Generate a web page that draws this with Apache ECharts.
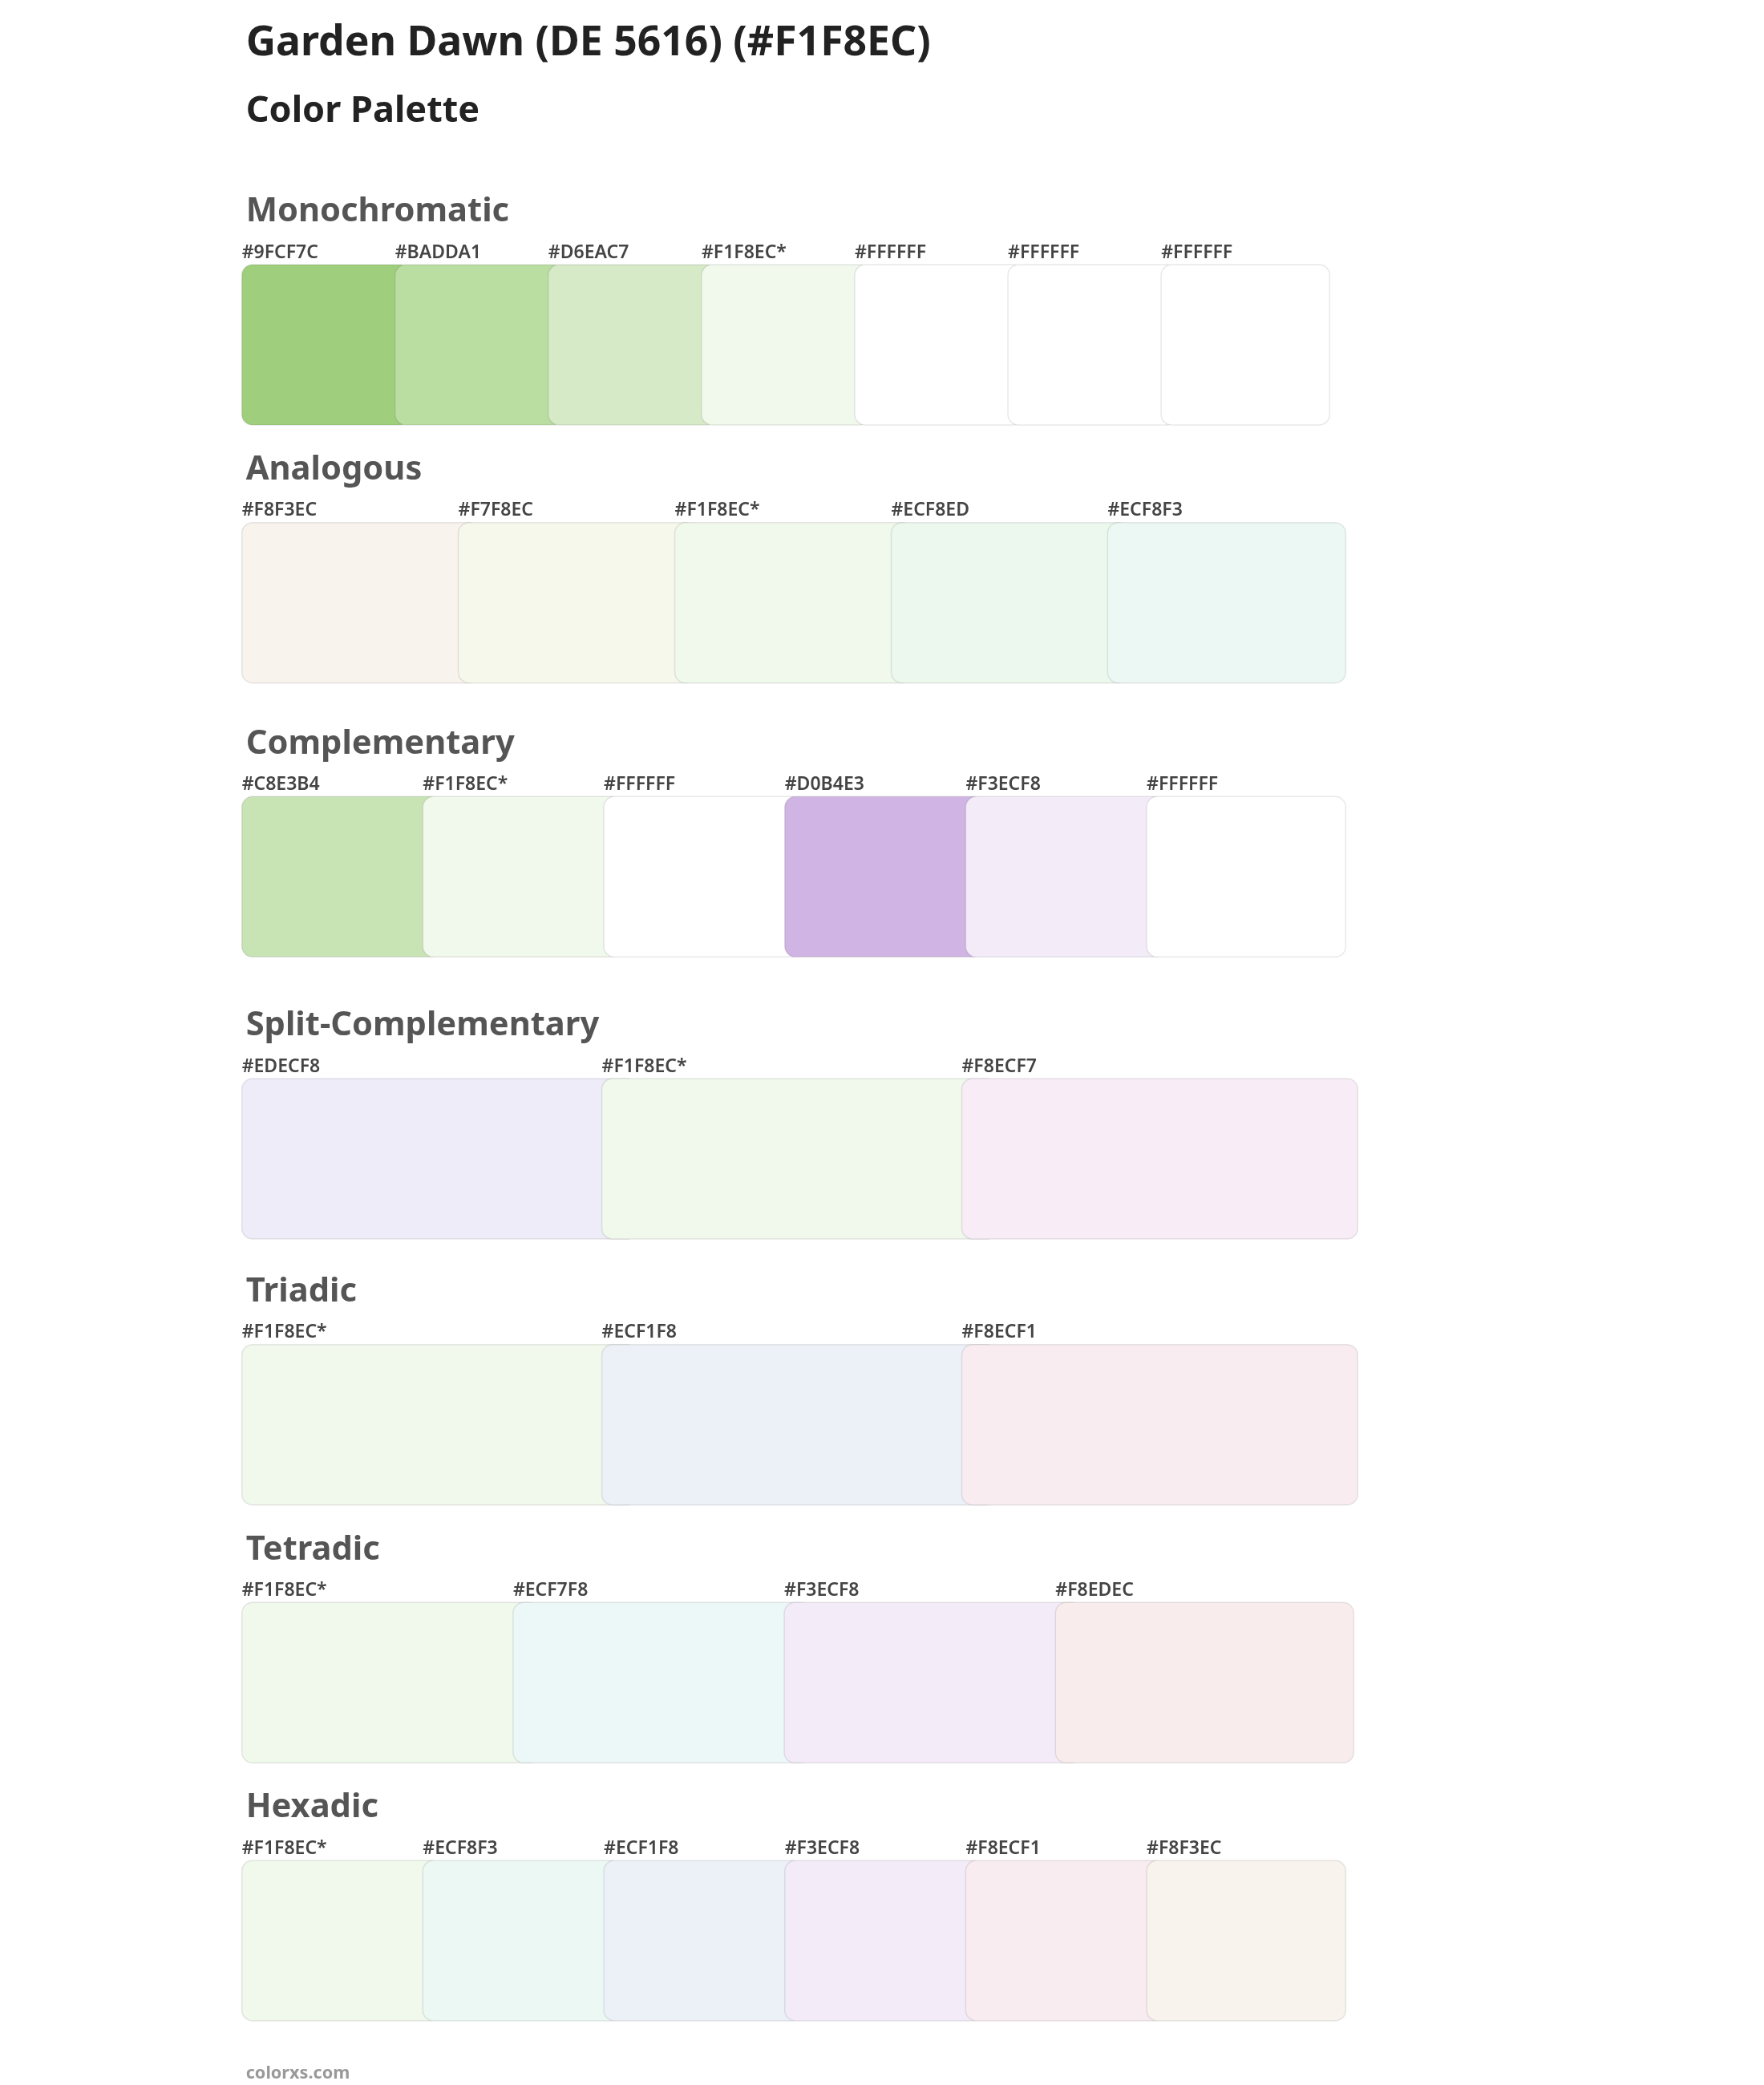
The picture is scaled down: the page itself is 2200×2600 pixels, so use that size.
<!DOCTYPE html>
<html>
<head>
<meta charset="utf-8">
<script src="https://cdn.jsdelivr.net/npm/echarts@6/dist/echarts.min.js"></script>
<style>
  html, body { margin: 0; padding: 0; background: #fff; }
  #chart { width: 2200px; height: 2600px; }
</style>
</head>
<body>
<div id="chart"></div>
<script>
// palette data
const sectionNames = ['Monochromatic', 'Analogous', 'Complementary', 'Split-Complementary', 'Triadic', 'Tetradic', 'Hexadic'];
const monochromatic = ['#9FCF7C', '#BADDA1', '#D6EAC7', '#F1F8EC*', '#FFFFFF', '#FFFFFF', '#FFFFFF'];
const analogous = ['#F8F3EC', '#F7F8EC', '#F1F8EC*', '#ECF8ED', '#ECF8F3'];
const complementary = ['#C8E3B4', '#F1F8EC*', '#FFFFFF', '#D0B4E3', '#F3ECF8', '#FFFFFF'];
const splitComplementary = ['#EDECF8', '#F1F8EC*', '#F8ECF7'];
const triadic = ['#F1F8EC*', '#ECF1F8', '#F8ECF1'];
const tetradic = ['#F1F8EC*', '#ECF7F8', '#F3ECF8', '#F8EDEC'];
const hexadic = ['#F1F8EC*', '#ECF8F3', '#ECF1F8', '#F3ECF8', '#F8ECF1', '#F8F3EC'];
const palettes = [monochromatic, analogous, complementary, splitComplementary, triadic, tetradic, hexadic];

// layout, in reference units (1320 x 1560 page, scaled by the axes)
const S = 2200 / 1320;
const left = 181;
const sectionTop = [160, 353, 558, 769, 968, 1161, 1354];
const rowRight = [995, 1007, 1007, 1016, 1016, 1013, 1007];
const swatchH = 120;

const swatchData = [];
const labelData = [];
palettes.forEach((list, s) => {
  list.forEach((hex, i) => {
    swatchData.push([s, i, hex.replace('*', '')]);
    labelData.push([s, i, hex]);
  });
});

function swatchBox(s, i) {
  const n = palettes[s].length;
  const total = rowRight[s] - left;
  const step = total / (n + 0.1);
  const w = total - step * (n - 1);
  const y0 = sectionTop[s] + 38;
  return { x0: left + step * i, x1: left + step * i + w, y0, y1: y0 + swatchH };
}

const chart = echarts.init(document.getElementById('chart'));
chart.setOption({
  backgroundColor: '#fff',
  animation: false,
  grid: { left: 0, right: 0, top: 0, bottom: 0 },
  xAxis: { type: 'value', min: 0, max: 1320, show: false },
  yAxis: { type: 'value', min: 0, max: 1560, inverse: true, show: false },
  title: [
    { text: 'Garden Dawn (DE 5616) (#F1F8EC)', left: left * S, top: 14 * S,
      textStyle: { fontFamily: 'Noto Sans', fontWeight: 'bold', fontSize: 31 * S, color: '#222' } },
    { text: 'Color Palette', left: left * S, top: 67 * S,
      textStyle: { fontFamily: 'Noto Sans', fontWeight: 'bold', fontSize: 27 * S, color: '#222' } },
    { text: 'colorxs.com', left: left * S, top: 1542 * S,
      textStyle: { fontFamily: 'Noto Sans', fontWeight: 'bold', fontSize: 13 * S, color: '#999' } }
  ].concat(sectionNames.map((name, s) => ({
    text: name, left: left * S, top: (sectionTop[s] - 17) * S,
    textStyle: { fontFamily: 'Noto Sans', fontWeight: 'bold', fontSize: 25 * S, color: '#555' }
  }))),
  series: [
    {
      type: 'custom',
      data: swatchData,
      renderItem: (params, api) => {
        const b = swatchBox(api.value(0), api.value(1));
        const p0 = api.coord([b.x0, b.y0]);
        const p1 = api.coord([b.x1, b.y1]);
        return {
          type: 'rect',
          shape: { x: p0[0], y: p0[1], width: p1[0] - p0[0], height: p1[1] - p0[1], r: 8 * S },
          style: { fill: swatchData[params.dataIndex][2], stroke: 'rgba(0,0,0,0.09)', lineWidth: 1.5 }
        };
      }
    },
    {
      type: 'custom',
      data: labelData,
      renderItem: (params, api) => {
        const b = swatchBox(api.value(0), api.value(1));
        const p = api.coord([b.x0, b.y0 - 9]);
        return {
          type: 'text',
          x: p[0], y: p[1],
          style: {
            text: labelData[params.dataIndex][2], fill: '#444',
            font: '600 ' + Math.round(13.5 * S) + 'px "Noto Sans"',
            verticalAlign: 'middle', align: 'left'
          }
        };
      }
    }
  ]
});
</script>
</body>
</html>
